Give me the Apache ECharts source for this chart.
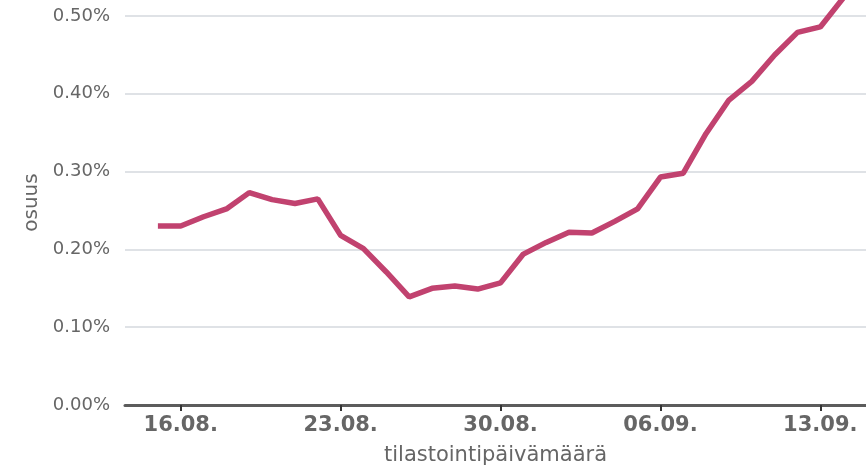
<!DOCTYPE html>
<html>
<head>
<meta charset="utf-8">
<script src="https://cdn.jsdelivr.net/npm/echarts@6/dist/echarts.min.js"></script>
<style>
  html, body { margin: 0; padding: 0; background: #fff; }
  #chart { width: 866px; height: 467px; }
</style>
</head>
<body>
<div id="chart"></div>
<script>
// päivät 15.08. - 14.09.
const dates = [
  '15.08.', '16.08.', '17.08.', '18.08.', '19.08.', '20.08.', '21.08.', '22.08.',
  '23.08.', '24.08.', '25.08.', '26.08.', '27.08.', '28.08.', '29.08.', '30.08.',
  '31.08.', '01.09.', '02.09.', '03.09.', '04.09.', '05.09.', '06.09.', '07.09.',
  '08.09.', '09.09.', '10.09.', '11.09.', '12.09.', '13.09.', '14.09.'
]
// osuus (%)
const share = [
  0.230, 0.230, 0.242, 0.252, 0.273, 0.264, 0.259, 0.265,
  0.218, 0.201, 0.171, 0.139, 0.150, 0.153, 0.149, 0.157,
  0.194, 0.209, 0.222, 0.221, 0.236, 0.252, 0.293, 0.298,
  0.349, 0.392, 0.416, 0.450, 0.479, 0.486, 0.523
]
// näytettävät päivämäärät x-akselilla
const tickDates = ['16.08.', '23.08.', '30.08.', '06.09.', '13.09.']
const yTicks = [0, 0.1, 0.2, 0.3, 0.4, 0.5]

const tickIdx = tickDates.map(d => dates.indexOf(d))
const seriesData = share.map((v, i) => [i, v])

let myChart = echarts.init(document.getElementById('chart'))

let option = {
  animation: false,
  grid: { left: 125, right: 0, top: 0, bottom: 62, outerBoundsMode: 'none' },
  xAxis: {
    type: 'value',
    min: -1.44,
    max: 31,
    name: 'tilastointipäivämäärä',
    nameLocation: 'middle',
    nameGap: 40,
    nameTextStyle: { fontFamily: 'DejaVu Sans', fontSize: 21, color: '#666' },
    axisLine: { show: true, lineStyle: { color: '#5c5c5c', width: 3 } },
    axisTick: { show: true, customValues: tickIdx, length: 6, lineStyle: { color: '#333', width: 2 } },
    axisLabel: {
      customValues: tickIdx,
      formatter: v => dates[Math.round(v)],
      fontFamily: 'DejaVu Sans',
      fontWeight: 'bold',
      fontSize: 21,
      color: '#666',
      margin: 10
    },
    splitLine: { show: false }
  },
  yAxis: {
    type: 'value',
    min: 0,
    max: 0.5206,
    interval: 0.1,
    name: 'osuus',
    nameLocation: 'middle',
    nameRotate: 90,
    nameGap: 83,
    nameTextStyle: { fontFamily: 'DejaVu Sans', fontSize: 20, color: '#666' },
    axisLine: { show: false },
    axisTick: { show: false },
    axisLabel: {
      showMaxLabel: false,
      formatter: v => yTicks.some(t => Math.abs(t - v) < 1e-9) ? v.toFixed(2) + '%' : '',
      fontFamily: 'DejaVu Sans',
      fontSize: 18,
      color: '#666',
      margin: 15
    },
    splitLine: { show: true, showMaxLine: false, lineStyle: { color: '#dfe2e6', width: 2 } }
  },
  series: [
    {
      type: 'line',
      data: seriesData,
      showSymbol: false,
      lineStyle: { color: '#c1426f', width: 5.5 },
      itemStyle: { color: '#c1426f' }
    }
  ]
}

myChart.setOption(option)
</script>
</body>
</html>
